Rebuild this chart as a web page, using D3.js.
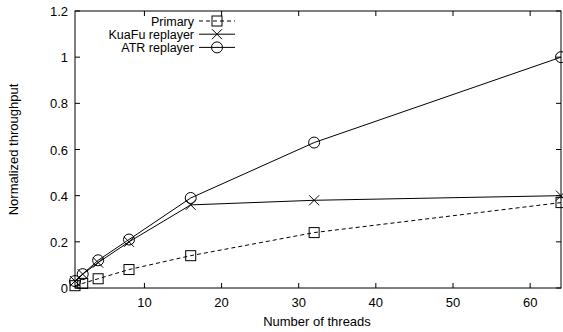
<!DOCTYPE html>
<html>
<head>
<meta charset="utf-8">
<script src="https://cdn.jsdelivr.net/npm/d3@7"></script>
<style>
  body { margin: 0; background: #fff; }
  text { font-family: "Liberation Sans", Arial, sans-serif; font-size: 13px; fill: #000; }
  text.legend { font-size: 12.5px; }
</style>
</head>
<body>
<svg id="chart" width="563" height="332"></svg>
<script>
// data
var threads = [1, 2, 4, 8, 16, 32, 64];
var primary = [0.01, 0.02, 0.04, 0.08, 0.14, 0.24, 0.37];
var kuafu = [0.03, 0.06, 0.11, 0.20, 0.36, 0.38, 0.40];
var atr = [0.03, 0.06, 0.12, 0.21, 0.39, 0.63, 1.0];
var seriesNames = ['Primary', 'KuaFu replayer', 'ATR replayer'];
var xTicks = [10, 20, 30, 40, 50, 60];
var yTicks = [0, 0.2, 0.4, 0.6, 0.8, 1, 1.2];

var svg = d3.select('#chart');
// plot box (note: "top" is taken by window.top, so use other names)
var plotL = 75, plotR = 561, plotT = 11, plotB = 288;

var x = d3.scaleLinear().domain([1, 64]).range([plotL, plotR]);
var y = d3.scaleLinear().domain([0, 1.2]).range([plotB, plotT]);

// ticks on all four sides, pointing in
var tickLen = 5;
svg.append('g').selectAll('line').data(xTicks).enter().append('line')
  .attr('x1', d => x(d)).attr('x2', d => x(d))
  .attr('y1', plotB).attr('y2', plotB - tickLen).attr('stroke', '#000');
svg.append('g').selectAll('line').data(xTicks).enter().append('line')
  .attr('x1', d => x(d)).attr('x2', d => x(d))
  .attr('y1', plotT).attr('y2', plotT + tickLen).attr('stroke', '#000');
svg.append('g').selectAll('line').data(yTicks).enter().append('line')
  .attr('x1', plotL).attr('x2', plotL + tickLen)
  .attr('y1', d => y(d)).attr('y2', d => y(d)).attr('stroke', '#000');
svg.append('g').selectAll('line').data(yTicks).enter().append('line')
  .attr('x1', plotR).attr('x2', plotR - tickLen)
  .attr('y1', d => y(d)).attr('y2', d => y(d)).attr('stroke', '#000');

// tick labels
svg.append('g').selectAll('text').data(xTicks).enter().append('text')
  .attr('x', d => x(d)).attr('y', plotB + 19)
  .attr('text-anchor', 'middle').text(d => d);
svg.append('g').selectAll('text').data(yTicks).enter().append('text')
  .attr('x', plotL - 7).attr('y', d => y(d) + 5)
  .attr('text-anchor', 'end').text(d => d);

// frame
svg.append('rect').attr('x', plotL).attr('y', plotT)
  .attr('width', plotR - plotL).attr('height', plotB - plotT)
  .attr('fill', 'none').attr('stroke', '#000');

// axis titles
svg.append('text').attr('x', (plotL + plotR) / 2 - 1).attr('y', plotB + 38)
  .attr('text-anchor', 'middle').text('Number of threads');
svg.append('text').attr('transform', 'translate(18,' + ((plotT + plotB) / 2) + ') rotate(-90)')
  .attr('text-anchor', 'middle').text('Normalized throughput');

// markers
function drawMarker(g, kind, cx, cy) {
  var s = 5;
  if (kind == 'square') {
    g.append('rect').attr('x', cx - s).attr('y', cy - s)
      .attr('width', 2 * s).attr('height', 2 * s)
      .attr('fill', 'none').attr('stroke', '#000');
  } else if (kind == 'cross') {
    g.append('path')
      .attr('d', 'M' + (cx - s) + ',' + (cy - s) + 'L' + (cx + s) + ',' + (cy + s) +
                 'M' + (cx - s) + ',' + (cy + s) + 'L' + (cx + s) + ',' + (cy - s))
      .attr('stroke', '#000');
  } else {
    g.append('circle').attr('cx', cx).attr('cy', cy).attr('r', s + 0.5)
      .attr('fill', 'none').attr('stroke', '#000');
  }
}

var series = [
  { name: seriesNames[0], values: primary, marker: 'square', dash: '4,3' },
  { name: seriesNames[1], values: kuafu, marker: 'cross', dash: null },
  { name: seriesNames[2], values: atr, marker: 'circle', dash: null }
];

var line = d3.line().x(d => x(d[0])).y(d => y(d[1]));

series.forEach(function (s, i) {
  var pts = threads.map((t, j) => [t, s.values[j]]);
  var g = svg.append('g');
  g.append('path').datum(pts).attr('d', line)
    .attr('fill', 'none').attr('stroke', '#000')
    .attr('stroke-dasharray', s.dash);
  pts.forEach(p => drawMarker(g, s.marker, x(p[0]), y(p[1])));

  // legend entry
  var ly = 21 + i * 13.2;
  svg.append('text').attr('class', 'legend').attr('x', 194).attr('y', ly + 4.5)
    .attr('text-anchor', 'end').text(s.name);
  svg.append('line').attr('x1', 199).attr('x2', 235)
    .attr('y1', ly).attr('y2', ly).attr('stroke', '#000')
    .attr('stroke-dasharray', s.dash);
  drawMarker(svg, s.marker, 217, ly);
});
</script>
</body>
</html>
